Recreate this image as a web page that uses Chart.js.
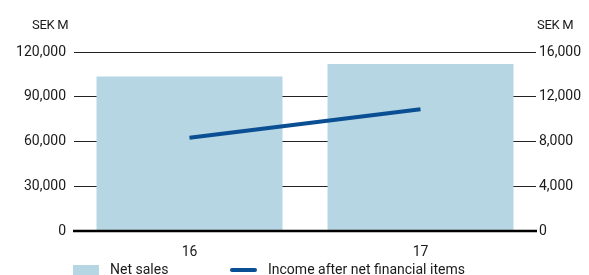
<!DOCTYPE html>
<html>
<head>
<meta charset="utf-8">
<script src="https://cdn.jsdelivr.net/npm/chart.js@4.4.1/dist/chart.umd.min.js"></script>
<style>
    body { margin: 0; background: #fff; }
    #wrap { position: relative; width: 589px; height: 275px; overflow: hidden; font-family: Roboto, sans-serif; color: #1a1a1a; }
    #chart { position: absolute; left: 0; top: 0; }
    .unit { position: absolute; top: 17px; font-size: 13px; letter-spacing: -0.3px; }
    .legend { position: absolute; top: 261px; font-size: 14px; white-space: nowrap; }
    .swatch { position: absolute; }
</style>
</head>
<body>
<div id="wrap">
    <canvas id="chart" width="589" height="275"></canvas>
    <div class="unit" style="left:32px;">SEK M</div>
    <div class="unit" style="left:537px;">SEK M</div>
    <div class="swatch" style="left:73px; top:265px; width:26px; height:12px; background:#b5d6e2;"></div>
    <div class="legend" style="left:110px;">Net sales</div>
    <div class="swatch" style="left:230px; top:268px; width:27px; height:4px; border-radius:2px; background:#0a4f94;"></div>
    <div class="legend" style="left:268px;">Income after net financial items</div>
</div>
<script>
const years = ['16', '17'];
const netSales = [103600, 111900];
const incomeAfterFinancial = [8340, 10880];
const leftTicks = [0, 30000, 60000, 90000, 120000];
const rightTicks = [0, 4000, 8000, 12000, 16000];

const tickFont = { family: 'Roboto', size: 14 };

// zero line on top of the bars
const zeroLine = {
    id: 'zeroLine',
    afterDatasetsDraw(chart) {
        const y = chart.scales.y.getPixelForValue(0);
        const ctx = chart.ctx;
        ctx.save();
        ctx.strokeStyle = '#000';
        ctx.lineWidth = 2.5;
        ctx.beginPath();
        ctx.moveTo(chart.chartArea.left - 1, y);
        ctx.lineTo(chart.chartArea.right + 1, y);
        ctx.stroke();
        ctx.restore();
    }
};

new Chart(document.getElementById('chart').getContext('2d'), {
    type: 'bar',
    data: {
        labels: years,
        datasets: [
            {
                type: 'line',
                label: 'Income after net financial items',
                data: incomeAfterFinancial,
                yAxisID: 'y1',
                borderColor: '#0a4f94',
                borderWidth: 4,
                borderCapStyle: 'butt',
                pointRadius: 0,
                fill: false,
                order: 0
            },
            {
                label: 'Net sales',
                data: netSales,
                yAxisID: 'y',
                backgroundColor: '#b5d6e2',
                categoryPercentage: 1,
                barPercentage: 0.805,
                order: 1
            }
        ]
    },
    plugins: [zeroLine],
    options: {
        responsive: false,
        animation: false,
        layout: { padding: { top: 52, bottom: 0, left: 0, right: 0 } },
        plugins: { legend: { display: false }, tooltip: { enabled: false } },
        scales: {
            x: {
                afterFit: s => { s.height = 44; },
                grid: { display: false },
                border: { display: false },
                ticks: { font: tickFont, color: '#1a1a1a', padding: 5 }
            },
            y: {
                position: 'left',
                min: 0,
                max: 120000,
                afterBuildTicks: s => { s.ticks = leftTicks.map(v => ({ value: v })); },
                afterFit: s => { s.width = 74; },
                grid: {
                    drawTicks: false,
                    color: ctx => ctx.tick.value === 0 ? 'rgba(0,0,0,0)' : '#222',
                    lineWidth: 1
                },
                border: { display: false },
                ticks: {
                    font: tickFont,
                    color: '#1a1a1a',
                    padding: 8,
                    callback: v => v.toLocaleString('en-US')
                }
            },
            y1: {
                position: 'right',
                min: 0,
                max: 16000,
                afterBuildTicks: s => { s.ticks = rightTicks.map(v => ({ value: v })); },
                afterFit: s => { s.width = 53; },
                grid: { display: false, drawTicks: false },
                border: { display: false },
                ticks: {
                    font: tickFont,
                    color: '#1a1a1a',
                    padding: 3,
                    callback: v => v.toLocaleString('en-US')
                }
            }
        }
    }
});
</script>
</body>
</html>
